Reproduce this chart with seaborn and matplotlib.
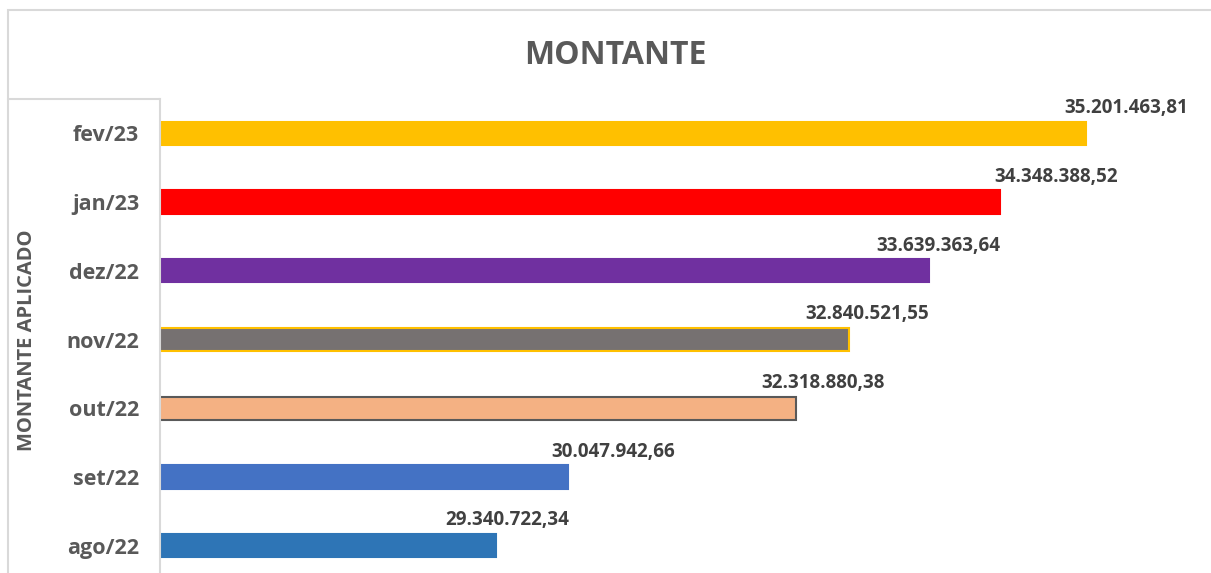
import matplotlib
matplotlib.use("Agg")
import matplotlib.pyplot as plt
import seaborn as sns
from matplotlib.patches import Rectangle
from matplotlib.lines import Line2D

# -------------------------------
# Data
# -------------------------------
months = ["fev/23", "jan/23", "dez/22", "nov/22", "out/22", "set/22", "ago/22"]
values = [35201463.81, 34348388.52, 33639363.64, 32840521.55,
          32318880.38, 30047942.66, 29340722.34]
labels = ["35.201.463,81", "34.348.388,52", "33.639.363,64", "32.840.521,55",
          "32.318.880,38", "30.047.942,66", "29.340.722,34"]
colors = ["#FFC000", "#FF0000", "#7030A0", "#767171", "#F4B183", "#4472C4", "#2E75B6"]
edges = ["#FFC000", "#FF0000", "#7030A0", "#FFC000", "#595959", "#4472C4", "#2E75B6"]
# manual nudges of the data labels (points), as in the original sheet
label_dx = [29, 40, 7, 13, 19, 33, 8]

sns.set_theme(style="white")
plt.rcParams["font.family"] = ["Open Sans", "DejaVu Sans"]

fig = plt.figure(figsize=(12.11, 5.73), dpi=100)
ax = fig.add_axes([160 / 1211, -7 / 573, 1045 / 1211, 481 / 573])

sns.barplot(x=values, y=months, hue=months, palette=colors, legend=False,
            width=0.34, saturation=1, ax=ax)

for bar, ec in zip(ax.patches, edges):
    bar.set_edgecolor(ec)
    bar.set_linewidth(1.5)

ax.set_xlim(26.0e6, 36.38e6)
ax.set_ylim(6.5, -0.5)

for i, (v, lab) in enumerate(zip(values, labels)):
    ax.annotate(lab, xy=(v, i), xytext=(label_dx[i], 11), textcoords="offset points",
                ha="center", va="bottom", fontsize=13.5, fontweight="bold", color="#404040")

ax.set_xticks([])
ax.tick_params(axis="y", length=0, pad=15, labelsize=15.5, labelcolor="#595959")
for t in ax.get_yticklabels():
    t.set_fontweight("bold")

sns.despine(ax=ax, top=True, right=True, bottom=True)
ax.spines["left"].set_color("#D9D9D9")
ax.spines["left"].set_linewidth(1.5)

ax.set_ylabel("")
fig.text(27 / 1211, 1 - 340 / 573, "MONTANTE APLICADO", rotation=90, ha="center",
         va="center", fontsize=14.5, fontweight="bold", color="#595959")

fig.text(615 / 1211, 1 - 55 / 573, "MONTANTE", ha="center", va="center",
         fontsize=23, fontweight="bold", color="#595959")

# chart frame and the box around the axis title
fig.patches.append(Rectangle((8 / 1211, -0.05), 1.1, 1 - 10 / 573 + 0.05,
                             transform=fig.transFigure, fill=False,
                             edgecolor="#D9D9D9", linewidth=1.5))
fig.lines.append(Line2D([8 / 1211, 160 / 1211], [1 - 99 / 573, 1 - 99 / 573],
                        transform=fig.transFigure, color="#D9D9D9", linewidth=1.5))

fig.savefig("out.png", dpi=100)
